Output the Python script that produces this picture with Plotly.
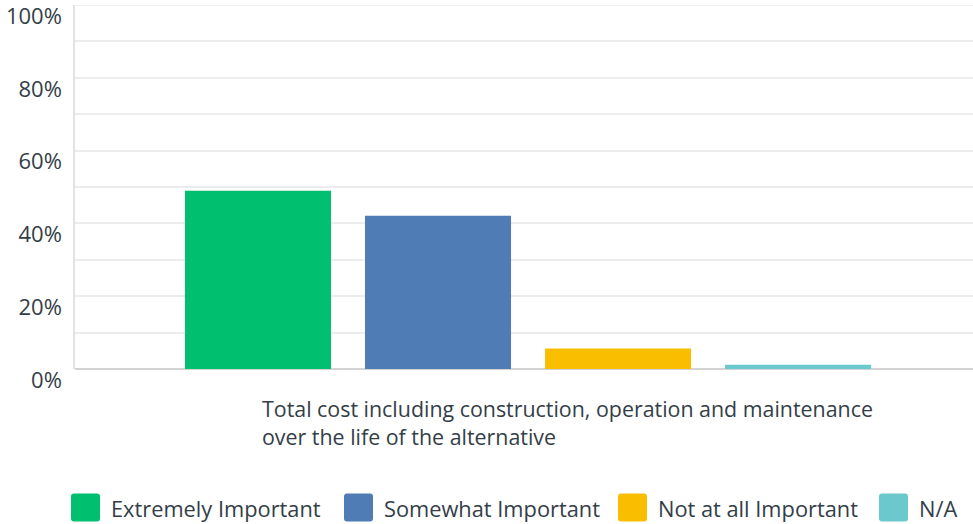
import re
import plotly.graph_objects as go

categories = ["Total cost including construction, operation and maintenance<br>over the life of the alternative"]
series_names = ["Extremely Important", "Somewhat Important", "Not at all Important", "N/A"]
series_values = [[49.0], [42.1], [5.6], [1.2]]
colors = ["#00BF6F", "#507CB6", "#F9BE00", "#6BC8CD"]
tick_vals = [0, 20, 40, 60, 80, 100]
tick_text = ["0%", "20%", "40%", "60%", "80%", "100%"]

W, H = 973, 524
ML, MR, MT, MB = 75, 0, 5, 155
PW, PH = W - ML - MR, H - MT - MB
FONT = "Open Sans"
TXT = "#333e48"


def px(x):
    return (x - ML) / PW


def py(y):
    return (H - MB - y) / PH


fig = go.Figure()
for name, vals, c in zip(series_names, series_values, colors):
    fig.add_trace(go.Bar(x=[0], y=vals, name=name, marker=dict(color=c, line=dict(width=0)),
                         showlegend=False, hoverinfo="skip"))

all_ticks = list(range(0, 101, 10))
all_text = [tick_text[tick_vals.index(v)] if v in tick_vals else "" for v in all_ticks]

fig.update_layout(
    width=W, height=H,
    margin=dict(l=ML, r=MR, t=MT, b=MB),
    paper_bgcolor="white", plot_bgcolor="white",
    barmode="group", bargap=0.198, bargroupgap=0.189,
    font=dict(family=FONT, color=TXT),
    xaxis=dict(range=[-0.5045, 0.4955], showticklabels=False, showgrid=False, zeroline=False,
               showline=False, fixedrange=True),
    yaxis=dict(range=[0, 100], tickvals=all_ticks, ticktext=all_text,
               showgrid=True, gridcolor="#ececec", gridwidth=1.5,
               zeroline=True, zerolinecolor="#d3d3d3", zerolinewidth=2,
               showline=True, linecolor="#e3e3e3", linewidth=1.5,
               ticks="", tickfont=dict(size=22, color=TXT, family=FONT),
               ticklabelstandoff=7, ticklabelshift=11, ticklabeloverflow="allow",
               fixedrange=True),
)

# top gridline at 100%
fig.add_shape(type="line", xref="paper", yref="y", x0=0, x1=1, y0=tick_vals[-1], y1=tick_vals[-1],
              line=dict(color="#ececec", width=1.5), layer="below")

# category label (left aligned, two lines)
fig.add_annotation(text=categories[0], xref="paper", yref="paper", x=px(260), y=py(392),
                   xanchor="left", yanchor="top", align="left", showarrow=False,
                   font=dict(size=21.4, color=TXT, family=FONT))

# custom legend with large rounded swatches
leg_x = [71, 344, 618, 879]
r = 3
for name, c, x0 in zip(series_names, colors, leg_x):
    x1 = x0 + 29
    y0, y1 = 493.5, 521.5
    path = (f"M {x0+r},{y0} L {x1-r},{y0} Q {x1},{y0} {x1},{y0+r} L {x1},{y1-r} Q {x1},{y1} {x1-r},{y1} "
            f"L {x0+r},{y1} Q {x0},{y1} {x0},{y1-r} L {x0},{y0+r} Q {x0},{y0} {x0+r},{y0} Z")

    def conv(m):
        a, b = float(m.group(1)), float(m.group(2))
        return f"{px(a):.5f},{py(b):.5f}"
    ppath = re.sub(r"([\d.]+),([\d.]+)", conv, path)
    fig.add_shape(type="path", path=ppath, xref="paper", yref="paper",
                  fillcolor=c, line=dict(width=0), layer="above")
    fig.add_annotation(text=name, xref="paper", yref="paper", x=px(x1 + 9), y=py(508),
                       xanchor="left", yanchor="middle", showarrow=False,
                       font=dict(size=21.8, color=TXT, family=FONT))

fig.write_html("out.html", config={"displayModeBar": False},
               post_script="document.body.style.margin='0';document.body.style.overflow='hidden';")
